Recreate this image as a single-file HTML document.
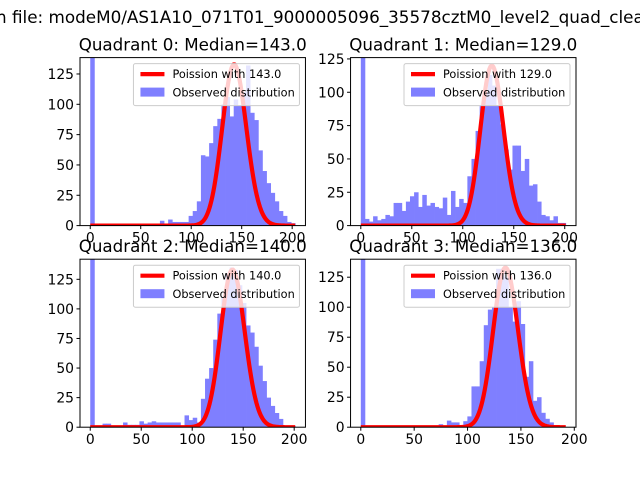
<!DOCTYPE html>
<html><head><meta charset="utf-8"><style>
body{margin:0;background:#fff;}
svg{display:block;font-family:"DejaVu Sans","Liberation Sans",sans-serif;}
</style></head><body>
<svg id="fig" width="640" height="480" viewBox="0 0 640 480" xmlns="http://www.w3.org/2000/svg">
<text x="-4" y="23" font-size="16.8" fill="#000">n file: modeM0/AS1A10_071T01_9000005096_35578cztM0_level2_quad_clean.evt</text>
</svg>
<script>
// ---- data ----
const quadrantNames = ["Quadrant 0","Quadrant 1","Quadrant 2","Quadrant 3"];
const medians = [143.0, 129.0, 140.0, 136.0];
const dataMax = [203, 201, 201, 192];
const yMax = [138.5, 126, 142, 140];
const poissonScale = [3985, 3418, 3950, 3890];
const yTicks = [0, 25, 50, 75, 100, 125];
const xTicks = [0, 50, 100, 150, 200];
const countsQ0 = [500,0,0,0,0,0,0,0,0,0,0,0,0,0,0,0,0,4,1,5,3,3,3,3,8,12,20,58,57,68,82,88,100,106,90,104,99,110,132,93,87,62,45,35,27,20,12,8,3,2];
const countsQ1 = [500,5,3,7,4,5,8,7,17,17,11,18,22,25,14,23,15,17,14,13,21,8,26,14,20,17,37,50,71,90,100,113,105,90,76,57,42,60,60,41,50,30,31,18,8,7,4,7,2,2];
const countsQ2 = [500,0,0,3,3,0,0,0,4,2,2,2,5,3,4,5,4,4,4,4,4,4,0,10,6,8,4,24,41,50,74,96,110,130,135,133,120,105,86,80,68,52,39,25,18,12,7,0,0,1];
const countsQ3 = [500,0,0,0,0,0,0,0,0,0,0,0,0,0,0,0,0,0,0,2.5,0,5.5,4,4,1,5,9,34,34,55,85,98,100,132,132,125,100,88,105,86,42,55,22,25,12,7,4,0,0,0];
const allCounts = [countsQ0, countsQ1, countsQ2, countsQ3];

// ---- layout ----
const NS = "http://www.w3.org/2000/svg";
const svg = document.getElementById("fig");
const axW = 225.45, axH = 168;
const axLeft = [80, 350.55, 80, 350.55];
const axTop = [57.6, 57.6, 259.2, 259.2];
function mk(tag, attrs, parent){
  const e = document.createElementNS(NS, tag);
  for (const k in attrs) e.setAttribute(k, attrs[k]);
  (parent||svg).appendChild(e);
  return e;
}
function lnFact(k){ let s=0; for(let i=2;i<=k;i++) s+=Math.log(i); return s; }

for (let q=0;q<4;q++){
  const L=axLeft[q], T=axTop[q], B=T+axH, R=L+axW;
  const xmin=-0.05*dataMax[q], xmax=dataMax[q]*1.05;
  const xs = v => L + (v-xmin)/(xmax-xmin)*axW;
  const ys = v => B - v/yMax[q]*axH;
  const g = mk("g",{});
  
  
  const cp = mk("clipPath",{id:"clip"+q}, g);
  mk("rect",{x:L,y:T,width:axW,height:axH}, cp);
  const plot = mk("g",{"clip-path":"url(#clip"+q+")"}, g);
  const barG = mk("g",{opacity:0.5}, plot);
  // bars
  const counts = allCounts[q];
  const bw = dataMax[q]/counts.length;
  counts.forEach((c,i)=>{
    if (c<=0) return;
    const x0=xs(i*bw), x1=xs((i+1)*bw);
    const r = mk("rect",{x:x0,y:ys(c),width:x1-x0+0.4,height:B-ys(c),fill:"#0000ff"}, barG);
    
    
  });
  // poisson line
  const lam = medians[q];
  let d="";
  for (let k=0;k<=Math.floor(dataMax[q]);k++){
    const p = Math.exp(k*Math.log(lam)-lam-lnFact(k));
    const v = poissonScale[q]*p;
    d += (k?"L":"M")+xs(k).toFixed(2)+","+ys(v).toFixed(2);
  }
  const line = mk("path",{d:d,fill:"none",stroke:"#ff0000","stroke-width":4.2,"stroke-linejoin":"round"}, plot);
  
  
  // frame
  const fr = mk("rect",{x:L,y:T,width:axW,height:axH,fill:"none",stroke:"#000","stroke-width":1}, g);
  
  
  // ticks
  xTicks.forEach(t=>{
    if (t>xmax) return;
    const x=xs(t);
    mk("line",{x1:x,x2:x,y1:B,y2:B+3.5,stroke:"#000","stroke-width":1}, g);
    const tx = mk("text",{x:x,y:B+17,"font-size":13.9,"text-anchor":"middle"}, g);
    tx.textContent = t;
    
    
  });
  yTicks.forEach(t=>{
    const y=ys(t);
    mk("line",{x1:L-3.5,x2:L,y1:y,y2:y,stroke:"#000","stroke-width":1}, g);
    const tx = mk("text",{x:L-6,y:y+5,"font-size":13.9,"text-anchor":"end"}, g);
    tx.textContent = t;
    
    
  });
  // title
  const ti = mk("text",{x:L+axW/2,y:T-7,"font-size":16.7,"text-anchor":"middle"}, g);
  ti.textContent = quadrantNames[q]+": Median="+medians[q].toFixed(1);
  
  
  // legend
  const lg = mk("g",{}, g);
  
  
  const lx=R-172, ly=T+6;
  mk("rect",{x:lx,y:ly,width:166,height:42,rx:2,fill:"#fff","fill-opacity":0.8,stroke:"#cccccc","stroke-width":1}, lg);
  mk("line",{x1:lx+7,x2:lx+31,y1:ly+10.5,y2:ly+10.5,stroke:"#ff0000","stroke-width":4.2}, lg);
  const t1 = mk("text",{x:lx+39,y:ly+14.5,"font-size":11.3}, lg);
  t1.textContent = "Poission with "+medians[q].toFixed(1);
  
  
  mk("rect",{x:lx+7,y:ly+24,width:24,height:9,fill:"#0000ff","fill-opacity":0.5}, lg);
  const t2 = mk("text",{x:lx+39,y:ly+33,"font-size":11.3}, lg);
  t2.textContent = "Observed distribution";
  
  
}
</script>
</body></html>
